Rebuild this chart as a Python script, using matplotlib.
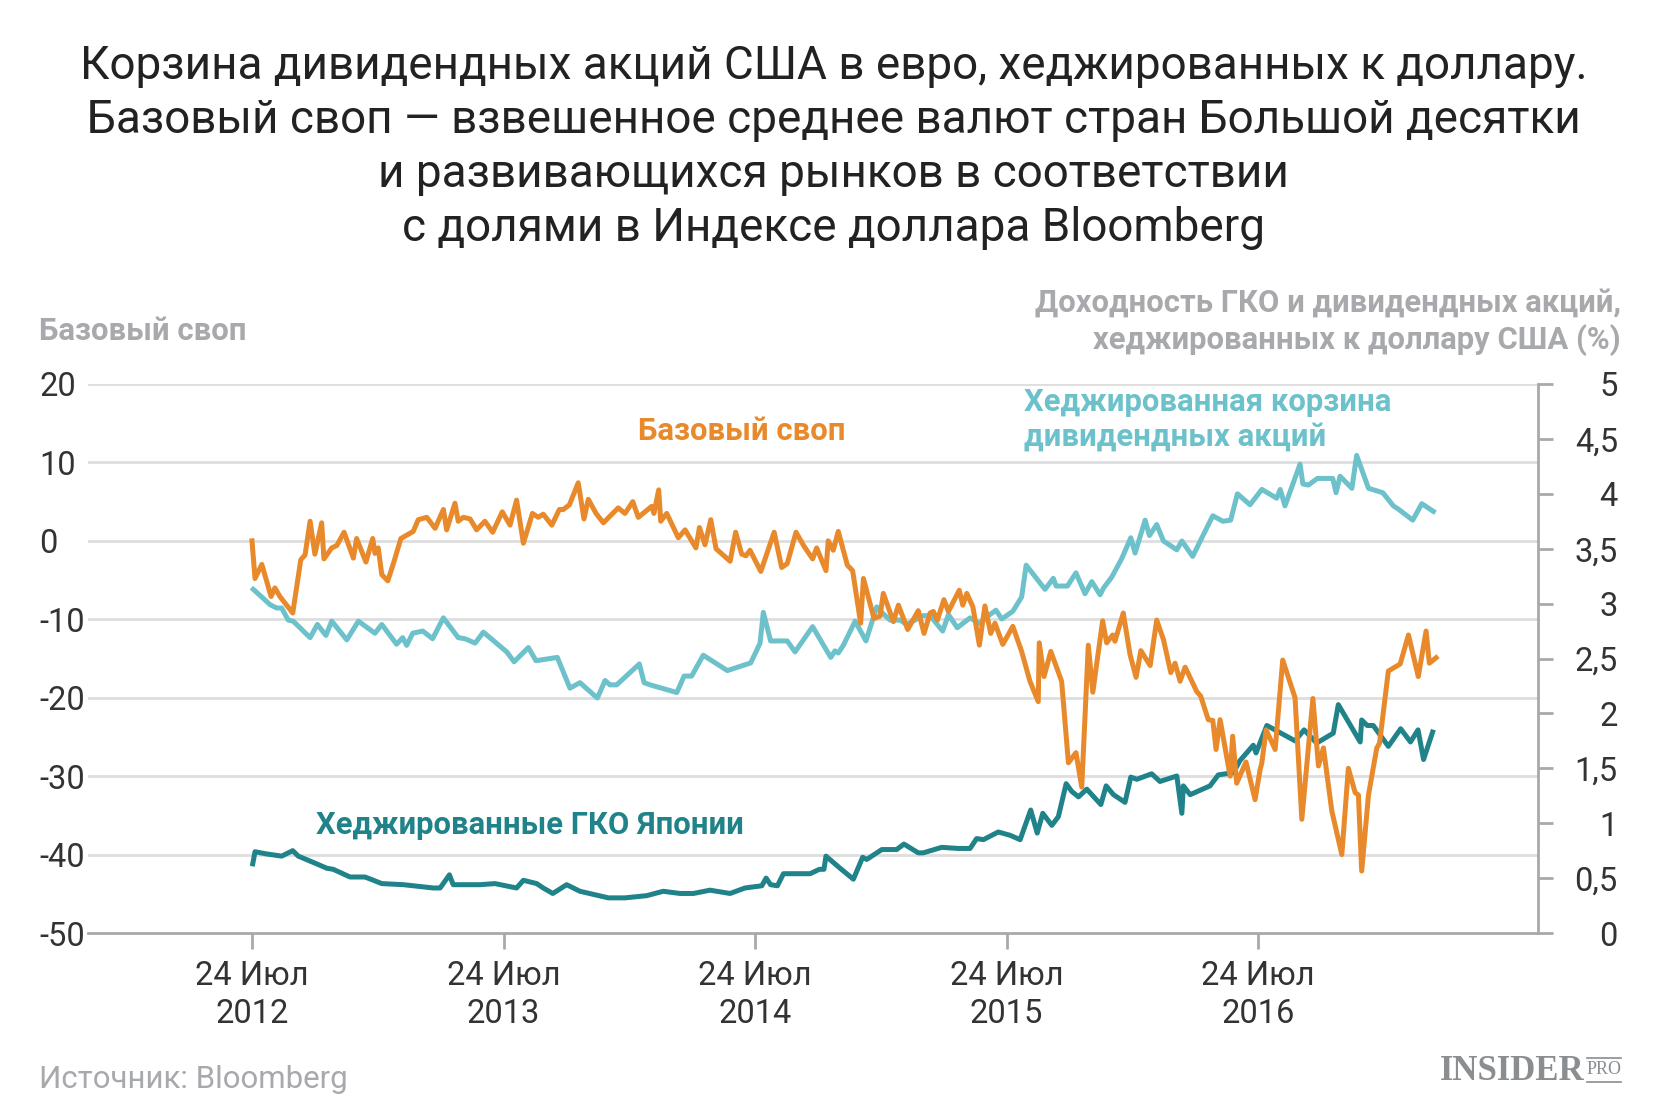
import numpy as np
import matplotlib
matplotlib.use("Agg")
import matplotlib.pyplot as plt
from matplotlib.lines import Line2D

plt.rcParams['font.family'] = ['Roboto', 'DejaVu Sans']

# time axis: years since 24 Jul 2012
# basis swap (left axis), (t, value)
swap = [
    (0.000, 0.0), (0.012, -4.8), (0.039, -3.0), (0.076, -7.1), (0.091, -6.0), (0.111, -7.1), (0.162, -9.2),
    (0.194, -2.4), (0.211, -1.8), (0.231, 2.5), (0.250, -1.7), (0.277, 2.3), (0.286, -2.3), (0.317, -0.9),
    (0.337, -0.6), (0.366, 1.1), (0.403, -2.2), (0.416, 0.3), (0.453, -2.7), (0.480, 0.3), (0.489, -1.6),
    (0.502, -0.9), (0.516, -4.3), (0.540, -5.1), (0.565, -2.6), (0.592, 0.3), (0.641, 1.2), (0.661, 2.7),
    (0.695, 3.0), (0.728, 1.6), (0.761, 4.0), (0.774, 1.4), (0.807, 4.8), (0.820, 2.5), (0.840, 3.0),
    (0.867, 2.8), (0.893, 1.4), (0.926, 2.5), (0.957, 1.1), (0.995, 3.7), (1.026, 2.0), (1.052, 5.2),
    (1.079, -0.3), (1.115, 3.5), (1.138, 3.0), (1.158, 3.4), (1.192, 2.0), (1.222, 4.0), (1.238, 4.0),
    (1.262, 4.6), (1.297, 7.4), (1.320, 2.8), (1.337, 5.3), (1.368, 3.5), (1.397, 2.3), (1.456, 4.2),
    (1.483, 3.5), (1.514, 5.0), (1.536, 3.0), (1.589, 4.4), (1.598, 3.5), (1.617, 6.5), (1.625, 2.5),
    (1.649, 3.5), (1.695, 0.4), (1.722, 1.4), (1.765, -0.9), (1.779, 1.7), (1.801, -0.5), (1.824, 2.7),
    (1.845, -1.0), (1.901, -2.6), (1.923, 1.1), (1.947, -1.7), (1.964, -1.9), (1.980, -1.2), (2.023, -3.9),
    (2.076, 1.1), (2.106, -3.4), (2.128, -2.9), (2.163, 1.1), (2.195, -0.7), (2.229, -2.3), (2.245, -0.9),
    (2.282, -3.8), (2.291, 0.0), (2.311, -1.2), (2.331, 1.2), (2.367, -3.1), (2.388, -3.8), (2.420, -10.5),
    (2.431, -4.8), (2.473, -9.9), (2.497, -9.6), (2.510, -6.7), (2.550, -10.3), (2.570, -8.2), (2.607, -11.3),
    (2.649, -8.9), (2.672, -11.8), (2.696, -9.2), (2.709, -9.0), (2.725, -10.1), (2.751, -7.5), (2.769, -9.0),
    (2.812, -6.3), (2.826, -8.2), (2.842, -6.7), (2.866, -8.4), (2.892, -13.3), (2.914, -8.3), (2.937, -11.8),
    (2.954, -10.5), (2.985, -13.2), (3.025, -10.9), (3.060, -14.1), (3.093, -17.9), (3.126, -20.5),
    (3.130, -13.0), (3.149, -17.3), (3.176, -14.1), (3.219, -17.9), (3.246, -28.3), (3.276, -27.0),
    (3.299, -31.4), (3.325, -13.3), (3.343, -19.3), (3.382, -10.2), (3.398, -13.0), (3.422, -12.0),
    (3.431, -12.8), (3.464, -9.2), (3.491, -14.5), (3.515, -17.4), (3.534, -14.0), (3.571, -15.9),
    (3.597, -10.1), (3.624, -12.6), (3.653, -16.8), (3.670, -15.6), (3.690, -17.9), (3.710, -16.1),
    (3.756, -19.2), (3.772, -19.8), (3.802, -22.8), (3.820, -22.9), (3.833, -26.6), (3.849, -22.8),
    (3.889, -30.0), (3.899, -24.9), (3.915, -30.9), (3.952, -28.2), (3.988, -33.0), (4.008, -29.2),
    (4.015, -28.3), (4.032, -24.1), (4.068, -26.6), (4.098, -15.2), (4.147, -20.0), (4.174, -35.5),
    (4.218, -20.1), (4.240, -28.7), (4.260, -26.4), (4.293, -34.4), (4.333, -40.0), (4.359, -29.0),
    (4.386, -32.1), (4.399, -32.4), (4.412, -42.1), (4.439, -32.4), (4.472, -26.4), (4.483, -25.8),
    (4.518, -16.6), (4.565, -15.7), (4.598, -12.0), (4.637, -17.3), (4.668, -11.5), (4.681, -15.6),
    (4.708, -14.9),
]

# hedged dividend basket yield, % (right axis)
basket = [
    (0.005, 3.13), (0.039, 3.06), (0.072, 2.99), (0.098, 2.96), (0.118, 2.96), (0.144, 2.85), (0.164, 2.84),
    (0.231, 2.69), (0.260, 2.81), (0.294, 2.71), (0.317, 2.84), (0.377, 2.67), (0.423, 2.84), (0.489, 2.73),
    (0.516, 2.81), (0.575, 2.63), (0.599, 2.69), (0.615, 2.62), (0.639, 2.73), (0.679, 2.75), (0.718, 2.68),
    (0.761, 2.87), (0.820, 2.69), (0.847, 2.68), (0.887, 2.64), (0.920, 2.74), (1.013, 2.56), (1.042, 2.47),
    (1.099, 2.60), (1.129, 2.48), (1.214, 2.51), (1.264, 2.23), (1.304, 2.28), (1.373, 2.14), (1.404, 2.30),
    (1.423, 2.26), (1.450, 2.26), (1.540, 2.45), (1.559, 2.28), (1.583, 2.26), (1.689, 2.19), (1.718, 2.34),
    (1.748, 2.34), (1.794, 2.53), (1.890, 2.39), (1.983, 2.46), (2.020, 2.64), (2.033, 2.92), (2.062, 2.66),
    (2.128, 2.66), (2.159, 2.56), (2.229, 2.79), (2.301, 2.51), (2.318, 2.57), (2.331, 2.55), (2.351, 2.62),
    (2.398, 2.84), (2.441, 2.66), (2.470, 2.87), (2.484, 2.97), (2.508, 2.91), (2.537, 2.85), (2.577, 2.85),
    (2.603, 2.81), (2.636, 2.85), (2.667, 2.89), (2.696, 2.89), (2.746, 2.75), (2.769, 2.90), (2.804, 2.78),
    (2.855, 2.87), (2.892, 2.82), (2.928, 2.89), (2.958, 2.94), (2.981, 2.86), (3.025, 2.93), (3.060, 3.06),
    (3.078, 3.35), (3.153, 3.13), (3.186, 3.23), (3.197, 3.16), (3.242, 3.16), (3.276, 3.28), (3.312, 3.09),
    (3.339, 3.20), (3.372, 3.08), (3.385, 3.14), (3.418, 3.24), (3.458, 3.41), (3.494, 3.60), (3.511, 3.46),
    (3.551, 3.76), (3.568, 3.62), (3.597, 3.72), (3.624, 3.57), (3.677, 3.49), (3.697, 3.57), (3.740, 3.43),
    (3.820, 3.80), (3.860, 3.75), (3.891, 3.76), (3.918, 4.00), (3.968, 3.90), (4.015, 4.04), (4.074, 3.96),
    (4.088, 4.04), (4.107, 3.89), (4.167, 4.27), (4.178, 4.09), (4.200, 4.08), (4.236, 4.14), (4.297, 4.14),
    (4.310, 4.01), (4.326, 4.16), (4.373, 4.05), (4.392, 4.35), (4.439, 4.05), (4.496, 4.01), (4.538, 3.89),
    (4.558, 3.86), (4.615, 3.76), (4.651, 3.91), (4.697, 3.84),
]

# hedged Japanese government bonds yield, % (right axis)
jgb = [
    (0.003, 0.63), (0.012, 0.74), (0.058, 0.72), (0.118, 0.70), (0.162, 0.75), (0.184, 0.70), (0.257, 0.63),
    (0.297, 0.59), (0.323, 0.58), (0.390, 0.51), (0.449, 0.51), (0.472, 0.49), (0.516, 0.45), (0.602, 0.44),
    (0.721, 0.41), (0.748, 0.41), (0.785, 0.53), (0.800, 0.44), (0.907, 0.44), (0.966, 0.45), (1.052, 0.41),
    (1.079, 0.48), (1.132, 0.45), (1.158, 0.41), (1.196, 0.36), (1.251, 0.44), (1.304, 0.38), (1.417, 0.32),
    (1.483, 0.32), (1.569, 0.34), (1.635, 0.38), (1.702, 0.36), (1.755, 0.36), (1.821, 0.39), (1.901, 0.36),
    (1.960, 0.41), (2.027, 0.43), (2.044, 0.50), (2.062, 0.44), (2.089, 0.43), (2.113, 0.54), (2.219, 0.54),
    (2.256, 0.58), (2.274, 0.58), (2.282, 0.70), (2.338, 0.59), (2.391, 0.49), (2.428, 0.69), (2.444, 0.67),
    (2.504, 0.76), (2.563, 0.76), (2.592, 0.81), (2.649, 0.73), (2.669, 0.73), (2.742, 0.78), (2.808, 0.77),
    (2.855, 0.77), (2.881, 0.86), (2.908, 0.85), (2.967, 0.92), (3.014, 0.89), (3.054, 0.85), (3.096, 1.12),
    (3.122, 0.91), (3.144, 1.09), (3.180, 0.98), (3.206, 1.06), (3.237, 1.36), (3.259, 1.29), (3.286, 1.24),
    (3.319, 1.31), (3.375, 1.17), (3.396, 1.34), (3.425, 1.26), (3.471, 1.19), (3.494, 1.42), (3.518, 1.40),
    (3.577, 1.45), (3.610, 1.38), (3.650, 1.41), (3.677, 1.43), (3.697, 1.09), (3.703, 1.34), (3.730, 1.26),
    (3.809, 1.34), (3.842, 1.44), (3.902, 1.46), (3.928, 1.57), (3.981, 1.71), (3.992, 1.64), (4.035, 1.89),
    (4.147, 1.75), (4.183, 1.85), (4.233, 1.73), (4.299, 1.82), (4.319, 2.08), (4.406, 1.74), (4.412, 1.94),
    (4.434, 1.89), (4.458, 1.89), (4.518, 1.70), (4.567, 1.86), (4.606, 1.74), (4.636, 1.85), (4.658, 1.58),
    (4.694, 1.83),
]

x_ticks = [0, 1, 2, 3, 4]
x_labels = ['24 Июл\n2012', '24 Июл\n2013', '24 Июл\n2014', '24 Июл\n2015', '24 Июл\n2016']
left_ticks = [20, 10, 0, -10, -20, -30, -40, -50]
right_ticks = [0, 0.5, 1, 1.5, 2, 2.5, 3, 3.5, 4, 4.5, 5]
right_labels = ['0', '0,5', '1', '1,5', '2', '2,5', '3', '3,5', '4', '4,5', '5']

swap_t, swap_v = zip(*swap)
basket_t, basket_v = zip(*basket)
jgb_t, jgb_v = zip(*jgb)

ORANGE = '#E8892B'
CYAN = '#6CC1CB'
TEAL = '#1F8389'
GRAY = '#A7A9AC'
DARK = '#333333'
GRID = '#DEDEDE'
AXIS = '#A9A9A9'
LOGO = '#8A8E91'

W, H = 1667, 1111
fig = plt.figure(figsize=(W / 100, H / 100), dpi=100)

# percent axis (bottom layer) and swap axis (top layer)
axp = fig.add_axes([88 / W, 1 - 933 / H, 1450 / W, 549 / H])
ax = axp.twinx()
ax.xaxis.set_visible(True)

# gridlines at swap ticks, drawn on the bottom layer
for v in left_ticks[:-1]:
    axp.add_line(Line2D([0, 1], [v, v], transform=ax.get_yaxis_transform(),
                        color=GRID, lw=2, zorder=0))

axp.plot(basket_t, basket_v, color=CYAN, lw=3.6, zorder=3)
axp.plot(jgb_t, jgb_v, color=TEAL, lw=3.6, zorder=3)
ax.plot(swap_t, swap_v, color=ORANGE, lw=3.6, zorder=3)

xmin, xmax = -0.652, 5.113
for a in (ax, axp):
    a.set_xlim(xmin, xmax)
    a.patch.set_visible(False)
axp.set_ylim(0, 5)
ax.set_ylim(-50, 20)

# swap axis: labels on the left, no spine
ax.yaxis.tick_left()
ax.set_yticks(left_ticks)
ax.set_yticklabels([str(v) for v in left_ticks])
ax.tick_params(axis='y', length=0, pad=35, labelsize=23.5, labelcolor=DARK)
for lab in ax.get_yticklabels():
    lab.set_horizontalalignment('left')
ax.set_xticks(x_ticks)
ax.set_xticklabels(x_labels, linespacing=1.25)
ax.tick_params(axis='x', direction='out', length=11.5, width=2, color=AXIS,
               pad=8, labelsize=23.5, labelcolor=DARK)
for s in ('top', 'left', 'right'):
    ax.spines[s].set_visible(False)
ax.spines['bottom'].set_color(AXIS)
ax.spines['bottom'].set_linewidth(2)

# percent axis: right spine with ticks
axp.yaxis.tick_right()
axp.set_yticks(right_ticks)
axp.set_yticklabels(right_labels)
axp.tick_params(axis='y', direction='out', length=10.5, width=2, color=AXIS,
                pad=47, labelsize=23.5, labelcolor=DARK)
for lab in axp.get_yticklabels():
    lab.set_horizontalalignment('right')
axp.tick_params(axis='x', bottom=False, labelbottom=False)
for s in ('top', 'left', 'bottom'):
    axp.spines[s].set_visible(False)
axp.spines['right'].set_color(AXIS)
axp.spines['right'].set_linewidth(2)

# title
title = ['Корзина дивидендных акций США в евро, хеджированных к доллару.',
         'Базовый своп — взвешенное среднее валют стран Большой десятки',
         'и развивающихся рынков в соответствии',
         'с долями в Индексе доллара Bloomberg']
for i, line in enumerate(title):
    fig.text(0.5, 1 - (66 + 54 * i) / H, line, ha='center', va='center',
             fontsize=33, color='#222222')

# axis captions
fig.text(39 / W, 1 - 331 / H, 'Базовый своп', ha='left', va='center',
         fontsize=22.4, color=GRAY, fontweight='bold')
fig.text(1621 / W, 1 - 322 / H, 'Доходность ГКО и дивидендных акций,\nхеджированных к доллару США (%)',
         ha='right', va='center', fontsize=22.3, color=GRAY, fontweight='bold',
         linespacing=1.25)

# series labels
fig.text(638 / W, 1 - 431 / H, 'Базовый своп', ha='left', va='center',
         fontsize=22.4, color=ORANGE, fontweight='bold')
fig.text(1024 / W, 1 - 419 / H, 'Хеджированная корзина\nдивидендных акций', ha='left',
         va='center', fontsize=22.4, color=CYAN, fontweight='bold', linespacing=1.2)
fig.text(316 / W, 1 - 825 / H, 'Хеджированные ГКО Японии', ha='left', va='center',
         fontsize=22.3, color=TEAL, fontweight='bold')

# footer
fig.text(39 / W, 1 - 1080 / H, 'Источник: Bloomberg', ha='left', va='center',
         fontsize=22.5, color=GRAY)
fig.text(1584 / W, 1 - 1072 / H, 'INSIDER', ha='right', va='center', fontsize=25,
         color=LOGO, fontweight='bold', family='Liberation Serif')
fig.text(1604 / W, 1 - 1069 / H, 'PRO', ha='center', va='center', fontsize=13,
         color=LOGO, family='Liberation Serif')
for yy in (1058, 1082):
    fig.add_artist(Line2D([1587 / W, 1621 / W], [1 - yy / H, 1 - yy / H],
                          color=LOGO, lw=1.2))

fig.savefig('out.png', dpi=100)
